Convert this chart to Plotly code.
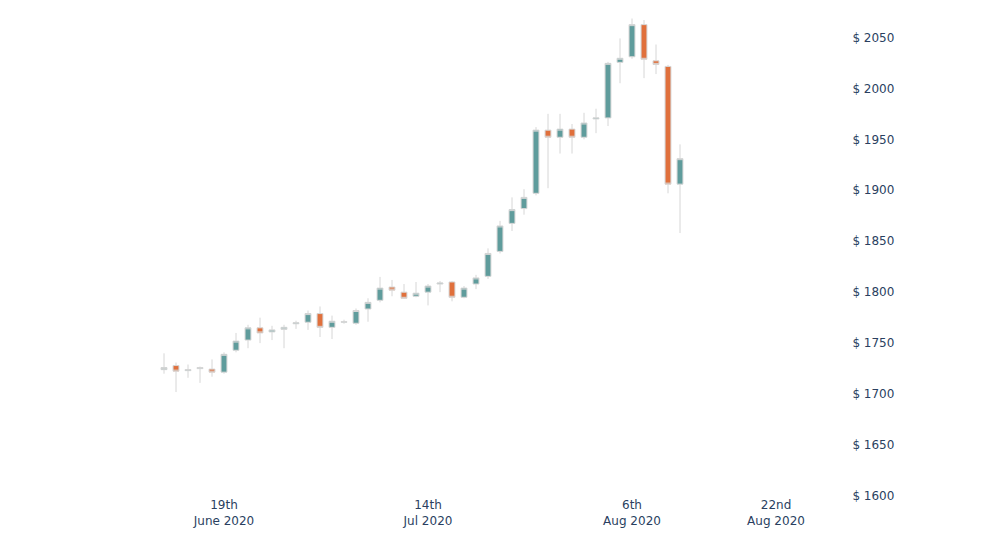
import plotly.graph_objects as go

dates = [
    "2020-06-12", "2020-06-15", "2020-06-16", "2020-06-17", "2020-06-18", "2020-06-19",
    "2020-06-22", "2020-06-23", "2020-06-24", "2020-06-25", "2020-06-26",
    "2020-06-29", "2020-06-30", "2020-07-01", "2020-07-02", "2020-07-03",
    "2020-07-06", "2020-07-07", "2020-07-08", "2020-07-09", "2020-07-10",
    "2020-07-13", "2020-07-14", "2020-07-15", "2020-07-16", "2020-07-17",
    "2020-07-20", "2020-07-21", "2020-07-22", "2020-07-23", "2020-07-24",
    "2020-07-27", "2020-07-28", "2020-07-29", "2020-07-30", "2020-07-31",
    "2020-08-03", "2020-08-04", "2020-08-05", "2020-08-06", "2020-08-07",
    "2020-08-10", "2020-08-11", "2020-08-12",
]
open_ = [1724, 1728, 1723, 1725, 1724.5, 1721.5, 1743, 1753, 1765, 1761, 1763.5,
         1769, 1770.5, 1779, 1765.5, 1770.5, 1769.5, 1783.5, 1792, 1805, 1800,
         1796, 1800, 1808, 1810, 1795, 1808, 1815.5, 1840, 1867.5, 1882,
         1897, 1959, 1952, 1960, 1952, 1970, 1971, 2025.5, 2031, 2062.5,
         2027, 2021.5, 1906]
close = [1726, 1722.5, 1724, 1726, 1721.5, 1739, 1752, 1765, 1760, 1763, 1765.5,
         1770, 1779, 1765.5, 1771.5, 1771, 1782, 1790, 1804, 1802, 1794,
         1799, 1806, 1809, 1795, 1804, 1814, 1838, 1865, 1881, 1893,
         1959, 1952, 1960, 1952, 1966, 1971, 2024.5, 2029.5, 2062.5, 2028.5,
         2023.5, 1906, 1931]
high = [1740, 1731, 1729, 1727, 1734, 1741, 1760, 1768, 1775, 1767, 1768,
        1772, 1782, 1786, 1777, 1773, 1784, 1794, 1815, 1812, 1808,
        1810, 1808, 1811, 1811, 1806, 1817, 1843, 1870, 1893, 1901,
        1962, 1975, 1975, 1965, 1976, 1980, 2026, 2049, 2068.5, 2067,
        2043, 2023, 1945]
low = [1720, 1702, 1716, 1711, 1717, 1720, 1741, 1745, 1750, 1753, 1745,
       1764, 1763, 1756, 1754, 1769, 1768, 1771, 1790, 1796, 1795,
       1795, 1787, 1800, 1791, 1794, 1803, 1813, 1838, 1860, 1876,
       1895, 1902, 1936, 1936, 1950, 1956, 1963, 2005, 2029, 2010,
       2014, 1897, 1858]

tick_vals = ["2020-06-19", "2020-07-14", "2020-08-06", "2020-08-24"]
tick_text = ["19th<br>June 2020", "14th<br>Jul 2020", "6th<br>Aug 2020", "22nd<br>Aug 2020"]

fig = go.Figure(go.Candlestick(
    x=dates, open=open_, high=high, low=low, close=close,
    increasing=dict(fillcolor="#5f9c9c", line=dict(color="#d6d6d6", width=1)),
    decreasing=dict(fillcolor="#e0703c", line=dict(color="#d6d6d6", width=1)),
    whiskerwidth=0,
))

fig.update_layout(
    width=1000, height=539,
    template="plotly_white",
    showlegend=False,
    margin=dict(l=80, r=160, t=9, b=51),
    font=dict(family="DejaVu Sans", size=12, color="#2a3f5f"),
    xaxis=dict(
        rangeslider=dict(visible=False),
        rangebreaks=[dict(bounds=["sat", "mon"])],
        range=["2020-06-03 16:00", "2020-09-01"],
        tickvals=tick_vals, ticktext=tick_text,
        showgrid=False, zeroline=False,
    ),
    yaxis=dict(
        side="right", range=[1600, 2070], dtick=50,
        tickprefix="$ ", showgrid=False, zeroline=False,
        ticks="outside", ticklen=1, tickcolor="rgba(0,0,0,0)",
    ),
)

fig.write_html("out.html")
